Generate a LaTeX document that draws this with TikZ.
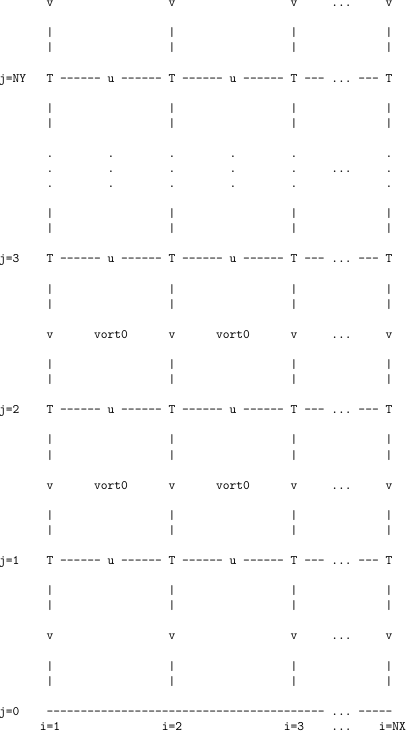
\documentclass[tikz,border=0pt]{standalone}
\usepackage{graphicx}
\newcommand\gtxt[1]{\scalebox{1.2914}{\fontsize{10}{12}\selectfont\ttfamily #1}}
\newcommand\dashrun[1]{\foreach \n in {1,...,#1}{-\kern0pt}}
\begin{document}
\begin{tikzpicture}[x=1pt,y=1pt,
  tt/.style={anchor=base west, inner sep=0pt, outer sep=0pt}]
\useasboundingbox (0,0) rectangle (405,-731);
% vertical bar rows
\foreach \k in {2,3,7,8,14,15,19,20,24,25,29,30,34,35,39,40,44,45}{
  \foreach \c in {7,25,43,57}{
    \node[tt] (bar-\k-\c) at ({6.78*\c-0.85},{-6.6-15.08*\k}) {\gtxt{|}};
  }
}
% v rows
\foreach \k in {0,22,32,42}{
  \foreach \c in {7,25,43,57}{
    \node[tt] (v-\k-\c) at ({6.78*\c-0.85},{-6.6-15.08*\k}) {\gtxt{v}};
  }
  \node[tt] (vdots-\k) at ({6.78*49-0.85},{-6.6-15.08*\k}) {\gtxt{...}};
}
\foreach \k in {22,32}{
  \foreach \c in {14,32}{
    \node[tt] (vort-\k-\c) at ({6.78*\c-0.85},{-6.6-15.08*\k}) {\gtxt{vort0}};
  }
}
% T rows
\foreach \k/\lab in {5/NY,17/3,27/2,37/1}{
  \node[tt] (jlab-\k) at ({-0.85},{-6.6-15.08*\k}) {\gtxt{j=\lab}};
  \foreach \c in {7,25,43,57}{
    \node[tt] (T-\k-\c) at ({6.78*\c-0.85},{-6.6-15.08*\k}) {\gtxt{T}};
  }
  \foreach \c in {16,34}{
    \node[tt] (u-\k-\c) at ({6.78*\c-0.85},{-6.6-15.08*\k}) {\gtxt{u}};
  }
  \foreach \c in {9,18,27,36}{
    \node[tt] (dsix-\k-\c) at ({6.78*\c-0.85},{-6.6-15.08*\k}) {\gtxt{\dashrun{6}}};
  }
  \foreach \c in {45,53}{
    \node[tt] (dthree-\k-\c) at ({6.78*\c-0.85},{-6.6-15.08*\k}) {\gtxt{\dashrun{3}}};
  }
  \node[tt] (tdots-\k) at ({6.78*49-0.85},{-6.6-15.08*\k}) {\gtxt{...}};
}
% dot rows
\foreach \k in {10,11,12}{
  \foreach \c in {7,16,25,34,43,57}{
    \node[tt] (dot-\k-\c) at ({6.78*\c-0.85},{-6.6-15.08*\k}) {\gtxt{.}};
  }
}
\node[tt] (dotsmid) at ({6.78*49-0.85},{-6.6-15.08*11}) {\gtxt{...}};
% j=0 row
\node[tt] (jzero) at ({-0.85},{-6.6-15.08*47}) {\gtxt{j=0}};
\node[tt] (bottomline) at ({6.78*7-0.85},{-6.6-15.08*47}) {\gtxt{\dashrun{41}}};
\node[tt] (bottomdots) at ({6.78*49-0.85},{-6.6-15.08*47}) {\gtxt{...}};
\node[tt] (bottomend) at ({6.78*53-0.85},{-6.6-15.08*47}) {\gtxt{\dashrun{5}}};
% i labels
\node[tt] (ione) at ({6.78*6-0.85},{-6.6-15.08*48}) {\gtxt{i=1}};
\node[tt] (itwo) at ({6.78*24-0.85},{-6.6-15.08*48}) {\gtxt{i=2}};
\node[tt] (ithree) at ({6.78*42-0.85},{-6.6-15.08*48}) {\gtxt{i=3}};
\node[tt] (idots) at ({6.78*49-0.85},{-6.6-15.08*48}) {\gtxt{...}};
\node[tt] (inx) at ({6.78*56-0.85},{-6.6-15.08*48}) {\gtxt{i=NX}};
\end{tikzpicture}
\end{document}
